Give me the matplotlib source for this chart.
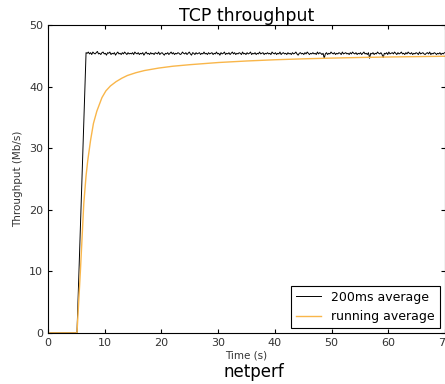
import numpy as np
import matplotlib
matplotlib.use('Agg')
import matplotlib.pyplot as plt

# 200ms average samples (Mb/s)
ramp_t = [0.0, 5.1]
ramp_v = [0.0, 0.0]
steady_start = 6.7
steady_step = 0.2
steady_v = [
    45.5, 45.4, 45.6, 45.3, 45.5, 45.2, 45.6, 45.4, 45.3, 45.5,
    45.7, 45.3, 45.4, 45.2, 45.5, 45.6, 45.3, 45.4, 45.1, 45.5,
    45.4, 45.6, 45.2, 45.4, 45.3, 45.5, 45.1, 45.4, 45.6, 45.3,
    45.4, 45.2, 45.5, 45.3, 45.6, 45.4, 45.2, 45.5, 45.3, 45.4,
    45.3, 45.5, 45.2, 45.6, 45.4, 45.3, 45.5, 45.2, 45.4, 45.3,
    45.5, 45.1, 45.4, 45.6, 45.3, 45.4, 45.2, 45.5, 45.3, 45.4,
    45.2, 45.5, 45.4, 45.3, 45.6, 45.2, 45.4, 45.5, 45.3, 45.1,
    45.4, 45.3, 45.5, 45.2, 45.4, 45.6, 45.3, 45.5, 45.2, 45.4,
    45.3, 45.5, 45.4, 45.2, 45.3, 45.6, 45.4, 45.3, 45.5, 45.2,
    45.4, 45.6, 45.3, 45.1, 45.5, 45.4, 45.2, 45.5, 45.3, 45.4,
    45.5, 45.2, 45.4, 45.3, 45.6, 45.3, 45.4, 45.2, 45.5, 45.3,
    45.4, 45.5, 45.2, 45.4, 45.3, 45.6, 45.3, 45.4, 45.1, 45.5,
    45.3, 45.4, 45.6, 45.2, 45.4, 45.3, 45.5, 45.2, 45.4, 45.6,
    45.3, 45.5, 45.2, 45.4, 45.3, 45.5, 45.4, 45.2, 45.6, 45.3,
    45.4, 45.2, 45.5, 45.3, 45.4, 45.6, 45.2, 45.4, 45.3, 45.5,
    45.2, 45.4, 45.3, 45.6, 45.3, 45.4, 45.5, 45.2, 45.4, 45.3,
    45.5, 45.3, 45.4, 45.2, 45.6, 45.4, 45.3, 45.5, 45.2, 45.4,
    45.3, 45.6, 45.2, 45.4, 45.5, 45.3, 45.4, 45.2, 45.5, 45.3,
    45.4, 45.2, 45.5, 45.3, 45.4, 45.6, 45.3, 45.1, 45.4, 45.5,
    45.3, 45.4, 45.2, 45.5, 45.3, 45.6, 45.4, 45.2, 45.4, 45.3,
    45.5, 45.3, 45.4, 45.2, 45.6, 45.3, 45.5, 45.4, 45.2, 45.4,
    44.6, 45.3, 45.5, 45.2, 45.4, 45.3, 45.6, 45.4, 45.3, 45.5,
    45.2, 45.4, 45.3, 45.5, 45.4, 45.2, 45.6, 45.3, 45.4, 45.5,
    45.3, 45.4, 45.2, 45.5, 45.3, 45.6, 45.4, 45.3, 45.5, 45.2,
    45.4, 45.3, 45.5, 45.2, 45.4, 45.6, 45.3, 45.4, 45.2, 45.5,
    44.6, 45.4, 45.3, 45.5, 45.2, 45.4, 45.3, 45.6, 45.4, 45.3,
    45.5, 45.2, 44.7, 45.4, 45.3, 45.5, 45.2, 45.6, 45.3, 45.4,
    45.5, 45.3, 45.6, 45.4, 45.2, 45.5, 45.3, 45.4, 45.6, 45.3,
    45.4, 45.2, 45.5, 45.3, 45.6, 45.4, 45.3, 45.5, 45.2, 45.4,
    45.3, 45.5, 45.4, 45.2, 45.6, 45.3, 45.4, 45.5, 45.3, 45.2,
    45.4, 45.5, 45.3, 45.6, 45.2, 45.4, 45.3, 45.5, 45.4, 45.2,
    45.4, 45.3, 45.5, 45.2, 45.4, 45.3, 45.5,
]

# running average
run_t = [0.0, 5.1, 5.4, 5.7, 6.0, 6.3, 6.7, 7.0, 7.5, 8.0, 8.6, 9.5, 10.2,
         11.0, 12.0, 13.0, 14.0, 15.5, 17.0, 19.5, 22.0, 25.0, 30.0, 35.0,
         40.0, 45.0, 50.0, 55.0, 60.0, 65.0, 70.0]
run_v = [0.0, 0.0, 5.0, 10.0, 15.5, 21.0, 25.5, 28.0, 31.3, 34.0, 36.0, 38.2,
         39.3, 40.1, 40.8, 41.35, 41.8, 42.25, 42.6, 43.0, 43.3, 43.55, 43.9,
         44.15, 44.35, 44.5, 44.62, 44.72, 44.8, 44.86, 44.92]

steady_t = steady_start + steady_step * np.arange(len(steady_v))
avg_t = np.concatenate([ramp_t, steady_t])
avg_v = np.concatenate([ramp_v, steady_v])

fig = plt.figure(figsize=(4.45, 3.84), dpi=100)
ax = fig.add_axes([0.108, 0.133, 0.892, 0.802])

ax.plot(avg_t, avg_v, color='black', lw=0.7, label='200ms average')
ax.plot(run_t, run_v, color='#f9b64a', lw=1.0, label='running average')

ax.set_xlim(0, 70)
ax.set_ylim(0, 50)
ax.set_xticks(range(0, 71, 10))
ax.set_yticks(range(0, 51, 10))
ax.tick_params(direction='in', top=True, right=True, labelsize=8,
               labelcolor='#333333', length=3)
ax.set_xlabel('Time (s)', fontsize=7.5, color='#333333', labelpad=2)
ax.set_ylabel('Throughput (Mb/s)', fontsize=7.5, color='#333333')
ax.set_title('TCP throughput', fontsize=12.5, pad=3)
fig.text(0.57, 0.03, 'netperf', ha='center', va='center', fontsize=12)

leg = ax.legend(loc='lower right', fontsize=9, fancybox=False,
                edgecolor='black', framealpha=1, borderaxespad=0.4)
leg.get_frame().set_linewidth(0.8)

fig.savefig('out.png', dpi=100)
